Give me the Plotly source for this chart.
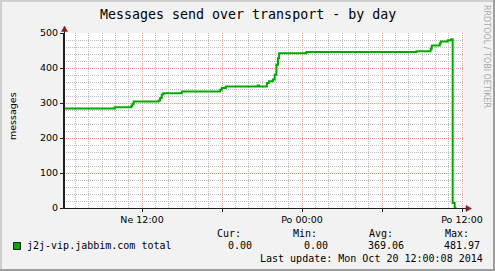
import plotly.graph_objects as go

# ---------------- data ----------------
times = [
    "2014-10-19 06:09", "2014-10-19 09:57", "2014-10-19 11:12", "2014-10-19 11:17",
    "2014-10-19 11:22", "2014-10-19 13:15", "2014-10-19 13:22", "2014-10-19 13:29",
    "2014-10-19 13:36", "2014-10-19 14:59", "2014-10-19 17:52", "2014-10-19 17:59",
    "2014-10-19 18:17", "2014-10-19 20:41", "2014-10-19 20:46", "2014-10-19 21:22",
    "2014-10-19 21:31", "2014-10-19 21:49", "2014-10-19 21:57", "2014-10-19 22:05",
    "2014-10-19 22:12", "2014-10-19 22:17", "2014-10-20 00:20", "2014-10-20 08:35",
    "2014-10-20 09:39", "2014-10-20 09:44", "2014-10-20 10:20", "2014-10-20 10:24",
    "2014-10-20 10:56", "2014-10-20 11:12", "2014-10-20 11:18", "2014-10-20 11:27",
    "2014-10-20 11:35",
]
messages = [
    284, 288, 292, 297,
    304, 307, 314, 324,
    328, 333, 338, 343,
    347, 350, 347, 357,
    362, 367, 381, 409,
    428, 442, 446, 448,
    455, 464, 470, 476,
    479, 481.97, 14, 0,
    0,
]
series_name = "j2j-vip.jabbim.com total"
x_tickvals = ["2014-10-19 12:00", "2014-10-19 18:00", "2014-10-20 00:00",
              "2014-10-20 06:00", "2014-10-20 12:00"]
x_ticktext = ["Ne 12:00", "", "Po 00:00", "", "Po 12:00"]
stat_headers = ["Cur:", "Min:", "Avg:", "Max:"]
stat_values = ["0.00", "0.00", "369.06", "481.97"]
title_text = "Messages send over transport - by day"
y_title = "messages"
last_update = "Last update: Mon Oct 20 12:00:08 2014"
watermark = "RRDTOOL / TOBI OETIKER"

# ---------------- geometry helpers (pixel -> paper) ----------------
W, H = 495, 271
L, R, T, B = 64, 464, 33, 208


def px(x):
    return (x - L) / (R - L)


def py(y):
    return (B - y) / (B - T)


MONO = "DejaVu Sans Mono"
SANS = "DejaVu Sans"
LINE_COLOR = "#00aa00"
MGRID = "#ec9a9a"
GRID = "#bdbdbd"
ARROW = "#801f1f"

fig = go.Figure()
fig.add_trace(go.Scatter(
    x=times, y=messages, mode="lines", name=series_name,
    line=dict(color=LINE_COLOR, width=2, shape="hv"),
    hoverinfo="skip", showlegend=False,
))

fig.update_layout(
    width=W, height=H,
    margin=dict(l=L, r=W - R, t=T, b=H - B, pad=0),
    paper_bgcolor="#f2f2f2",
    plot_bgcolor="#ffffff",
    showlegend=False,
    xaxis=dict(
        type="date",
        range=["2014-10-19 06:09", "2014-10-20 12:09"],
        tickmode="array", tickvals=x_tickvals, ticktext=x_ticktext,
        showgrid=True, gridcolor=MGRID, griddash="1px,1px", gridwidth=1,
        showline=True, linecolor="#1f1f1f", linewidth=1,
        ticks="outside", ticklen=3, tickcolor="#1f1f1f",
        tickfont=dict(family=SANS, size=9.5, color="#000"),
        zeroline=False, fixedrange=True,
        minor=dict(tickmode="linear", tick0="2014-10-19 00:00", dtick=3600000,
                   showgrid=True, gridcolor=GRID, griddash="1px,1px", gridwidth=1),
    ),
    yaxis=dict(
        range=[0, 500], tickmode="linear", tick0=0, dtick=100,
        showgrid=True, gridcolor=MGRID, griddash="1px,1px", gridwidth=1,
        showline=True, linecolor="#1f1f1f", linewidth=1,
        ticks="outside", ticklen=3, tickcolor="#1f1f1f",
        tickfont=dict(family=SANS, size=9.5, color="#000"),
        zeroline=False, fixedrange=True,
        minor=dict(tickmode="linear", tick0=0, dtick=20,
                   showgrid=True, gridcolor=GRID, griddash="1px,1px", gridwidth=1),
    ),
)

shapes = []
# border shading
shapes.append(dict(type="rect", xref="paper", yref="paper", x0=px(0), x1=px(W), y0=py(0), y1=py(2),
                   fillcolor="#cfcfcf", line=dict(width=0), layer="below"))
shapes.append(dict(type="rect", xref="paper", yref="paper", x0=px(0), x1=px(2), y0=py(0), y1=py(H),
                   fillcolor="#cfcfcf", line=dict(width=0), layer="below"))
shapes.append(dict(type="rect", xref="paper", yref="paper", x0=px(W - 2), x1=px(W), y0=py(0), y1=py(H),
                   fillcolor="#9e9e9e", line=dict(width=0), layer="below"))
shapes.append(dict(type="rect", xref="paper", yref="paper", x0=px(0), x1=px(W), y0=py(H - 2), y1=py(H),
                   fillcolor="#9e9e9e", line=dict(width=0), layer="below"))
# axis extensions
shapes.append(dict(type="line", xref="paper", yref="paper", x0=px(64.5), x1=px(64.5), y0=py(208), y1=py(30),
                   line=dict(color="#1f1f1f", width=1)))
shapes.append(dict(type="line", xref="paper", yref="paper", x0=px(64), x1=px(468), y0=py(208.5), y1=py(208.5),
                   line=dict(color="#1f1f1f", width=1)))
# arrows
shapes.append(dict(type="path", xref="paper", yref="paper",
                   path=f"M {px(64.5)},{py(26)} L {px(61.5)},{py(31.5)} L {px(67.5)},{py(31.5)} Z",
                   fillcolor=ARROW, line=dict(color=ARROW, width=0.5)))
shapes.append(dict(type="path", xref="paper", yref="paper",
                   path=f"M {px(471.5)},{py(208.5)} L {px(466)},{py(205.5)} L {px(466)},{py(211.5)} Z",
                   fillcolor=ARROW, line=dict(color=ARROW, width=0.5)))
# legend swatch
shapes.append(dict(type="rect", xref="paper", yref="paper", x0=px(13.5), x1=px(20.5), y0=py(249.5), y1=py(242.5),
                   fillcolor=LINE_COLOR, line=dict(color="#1a1a1a", width=1)))
fig.update_layout(shapes=shapes)


def ann(text, x, y, xanchor="left", yanchor="middle", family=MONO, size=10, color="#000", angle=0):
    fig.add_annotation(text=text, xref="paper", yref="paper", x=px(x), y=py(y),
                       xanchor=xanchor, yanchor=yanchor, showarrow=False,
                       font=dict(family=family, size=size, color=color),
                       textangle=angle, borderpad=0, borderwidth=0)


ann(title_text, 247.5, 14, xanchor="center", size=13.3)
ann(y_title, 12, 116, xanchor="center", family=SANS, size=9.5, angle=-90)
ann(watermark, 487, 56, xanchor="center", family=SANS, size=8, color="#a8a8a8", angle=90)
ann(series_name, 27, 245)

header_left = [217, 293, 369, 445]
value_right = [252, 328, 404, 480]
for hdr, hx in zip(stat_headers, header_left):
    ann(hdr, hx, 233.5)
for val, vx in zip(stat_values, value_right):
    ann(val, vx, 245, xanchor="right")
ann(last_update, 260, 258)

fig.write_html("out.html")
